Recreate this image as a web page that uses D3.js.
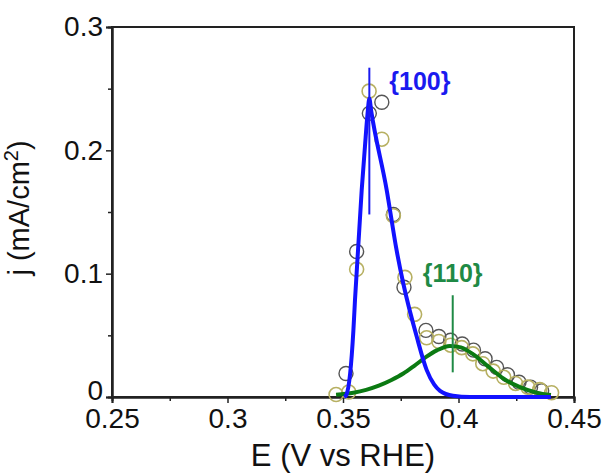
<!DOCTYPE html>
<html>
<head>
<meta charset="utf-8">
<script src="https://d3js.org/d3.v7.min.js"></script>
<style>
  body { margin: 0; background: #fff; }
  svg text { font-family: "Liberation Sans", Arial, sans-serif; }
</style>
</head>
<body>
<div id="chart"></div>
<script>
// measured points, olive circles (E in V, j in mA/cm2)
var oliveE = [0.3470, 0.3525, 0.3559, 0.3613, 0.3668, 0.3718, 0.3768, 0.3810, 0.3862, 0.3915, 0.3966, 0.4014, 0.4062, 0.4105, 0.4150, 0.4196, 0.4247, 0.4300, 0.4352, 0.4403];
var oliveJ = [0.002, 0.004, 0.1035, 0.248, 0.209, 0.147, 0.097, 0.067, 0.048, 0.045, 0.042, 0.040, 0.035, 0.027, 0.021, 0.016, 0.011, 0.008, 0.006, 0.0035];

// measured points, grey circles
var greyE = [0.3513, 0.3559, 0.3614, 0.3668, 0.3718, 0.3764, 0.3859, 0.3915, 0.3966, 0.4016, 0.4065, 0.4115, 0.4165, 0.4212, 0.4262, 0.4312, 0.4360];
var greyJ = [0.019, 0.118, 0.230, 0.239, 0.148, 0.089, 0.054, 0.049, 0.046, 0.043, 0.038, 0.031, 0.024, 0.018, 0.012, 0.008, 0.005];

// {100} fit (blue)
var fit100E = [0.3505, 0.3515, 0.3545, 0.3552, 0.3581, 0.3595, 0.3606, 0.3614, 0.3622, 0.3689, 0.3732, 0.3761, 0.3819, 0.3862, 0.3895, 0.3920, 0.3976, 0.4050, 0.4400];
var fit100J = [0, 0.002, 0.054, 0.079, 0.168, 0.203, 0.229, 0.242, 0.232, 0.168, 0.119, 0.092, 0.049, 0.022, 0.010, 0.005, 0.001, 0, 0];

// {110} fit (green)
var fit110E = [0.3470, 0.3545, 0.3600, 0.3655, 0.3710, 0.3761, 0.3810, 0.3860, 0.3906, 0.3963, 0.4010, 0.4064, 0.4129, 0.4194, 0.4266, 0.4338, 0.4400];
var fit110J = [0.0018, 0.0035, 0.0058, 0.0092, 0.0138, 0.019, 0.0255, 0.0325, 0.0378, 0.0414, 0.0402, 0.0345, 0.0246, 0.015, 0.0080, 0.0035, 0.0016];

var xTicks = [0.25, 0.3, 0.35, 0.4, 0.45];
var yTicks = [0, 0.1, 0.2, 0.3];
var peaks = [
  {label: '{100}', e: 0.3614, j0: 0.148, j1: 0.267, color: '#1a1aef', dx: 20, dy: 22, anchor: 'start'},
  {label: '{110}', e: 0.3975, j0: 0.020, j1: 0.0825, color: '#1f8a45', dx: 0, dy: -13, anchor: 'middle'}
];

var margin = {top: 27, right: 37, bottom: 77, left: 112};
var width = 611 - margin.left - margin.right;
var height = 474 - margin.top - margin.bottom;

var x = d3.scaleLinear().domain([0.25, 0.45]).range([0, width]);
var y = d3.scaleLinear().domain([0, 0.3]).range([height, 0]);

var svg = d3.select('#chart').append('svg')
    .attr('width', 611).attr('height', 474)
  .append('g')
    .attr('transform', 'translate(' + margin.left + ',' + margin.top + ')');

// frame
svg.append('rect')
  .attr('width', width).attr('height', height)
  .attr('fill', 'none').attr('stroke', '#222').attr('stroke-width', 2);

// minor ticks
var xAxisMinor = d3.axisBottom(x).tickValues([0.275, 0.325, 0.375, 0.425]).tickSize(4).tickFormat('');
var yAxisMinor = d3.axisLeft(y).tickValues([0.05, 0.15, 0.25]).tickSize(4).tickFormat('');
svg.append('g').attr('transform', 'translate(0,' + height + ')').call(xAxisMinor);
svg.append('g').call(yAxisMinor);

var xAxis = d3.axisBottom(x).tickValues(xTicks).tickSize(6).tickPadding(5)
  .tickFormat(function(d) { return String(+d.toFixed(2)); });
var yAxis = d3.axisLeft(y).tickValues(yTicks).tickSize(6).tickPadding(3)
  .tickFormat(function(d) { return String(+d.toFixed(1)); });

svg.append('g').attr('class', 'x-axis').attr('transform', 'translate(0,' + height + ')').call(xAxis);
svg.append('g').attr('class', 'y-axis').call(yAxis);

svg.selectAll('.domain').attr('stroke', '#222').attr('stroke-width', 2);
svg.selectAll('.tick line').attr('stroke', '#222').attr('stroke-width', 1.5);
svg.selectAll('.tick text').attr('font-size', 28).attr('fill', '#111')
  .style('font-family', '"Liberation Sans", Arial, sans-serif');
// lift the y "0" a little so it clears the "0.25" below it
svg.select('.y-axis').selectAll('.tick text').filter(function(d) { return d === 0; })
  .attr('dy', '0.08em');

// axis titles
svg.append('text')
  .attr('x', width / 2).attr('y', height + 69)
  .attr('text-anchor', 'middle').attr('font-size', 31).attr('fill', '#111')
  .text('E (V vs RHE)');

var yt = svg.append('text')
  .attr('transform', 'translate(-83,' + (height / 2 - 4) + ') rotate(-90)')
  .attr('text-anchor', 'middle').attr('font-size', 29).attr('fill', '#111');
yt.append('tspan').text('j (mA/cm');
yt.append('tspan').attr('dy', -11).attr('font-size', 20).text('2');
yt.append('tspan').attr('dy', 11).text(')');

// data circles
var olive = oliveE.map(function(e, i) { return {e: e, j: oliveJ[i]}; });
var grey = greyE.map(function(e, i) { return {e: e, j: greyJ[i]}; });

svg.append('g').selectAll('circle').data(grey).enter().append('circle')
  .attr('cx', function(d) { return x(d.e); })
  .attr('cy', function(d) { return y(d.j); })
  .attr('r', 7).attr('fill', 'none').attr('stroke', '#555').attr('stroke-width', 1.4);

svg.append('g').selectAll('circle').data(olive).enter().append('circle')
  .attr('cx', function(d) { return x(d.e); })
  .attr('cy', function(d) { return y(d.j); })
  .attr('r', 7).attr('fill', 'none').attr('stroke', '#b7b062').attr('stroke-width', 1.6);

// fitted curves
var line = d3.line()
  .x(function(d) { return x(d.e); })
  .y(function(d) { return y(d.j); })
  .curve(d3.curveMonotoneX);

var f110 = fit110E.map(function(e, i) { return {e: e, j: fit110J[i]}; });
var f100 = fit100E.map(function(e, i) { return {e: e, j: fit100J[i]}; });

svg.append('path').datum(f110).attr('d', line)
  .attr('fill', 'none').attr('stroke', '#0b7a12').attr('stroke-width', 4);
svg.append('path').datum(f100).attr('d', line)
  .attr('fill', 'none').attr('stroke', '#1212ff').attr('stroke-width', 4)
  .attr('stroke-linejoin', 'round');

// peak markers and labels
peaks.forEach(function(p) {
  svg.append('line')
    .attr('x1', x(p.e)).attr('x2', x(p.e))
    .attr('y1', y(p.j0)).attr('y2', y(p.j1))
    .attr('stroke', p.color).attr('stroke-width', 2);
  svg.append('text')
    .attr('x', x(p.e) + p.dx).attr('y', y(p.j1) + p.dy)
    .attr('text-anchor', p.anchor)
    .attr('font-size', 25).attr('font-weight', 'bold').attr('fill', p.color)
    .text(p.label);
});
</script>
</body>
</html>
